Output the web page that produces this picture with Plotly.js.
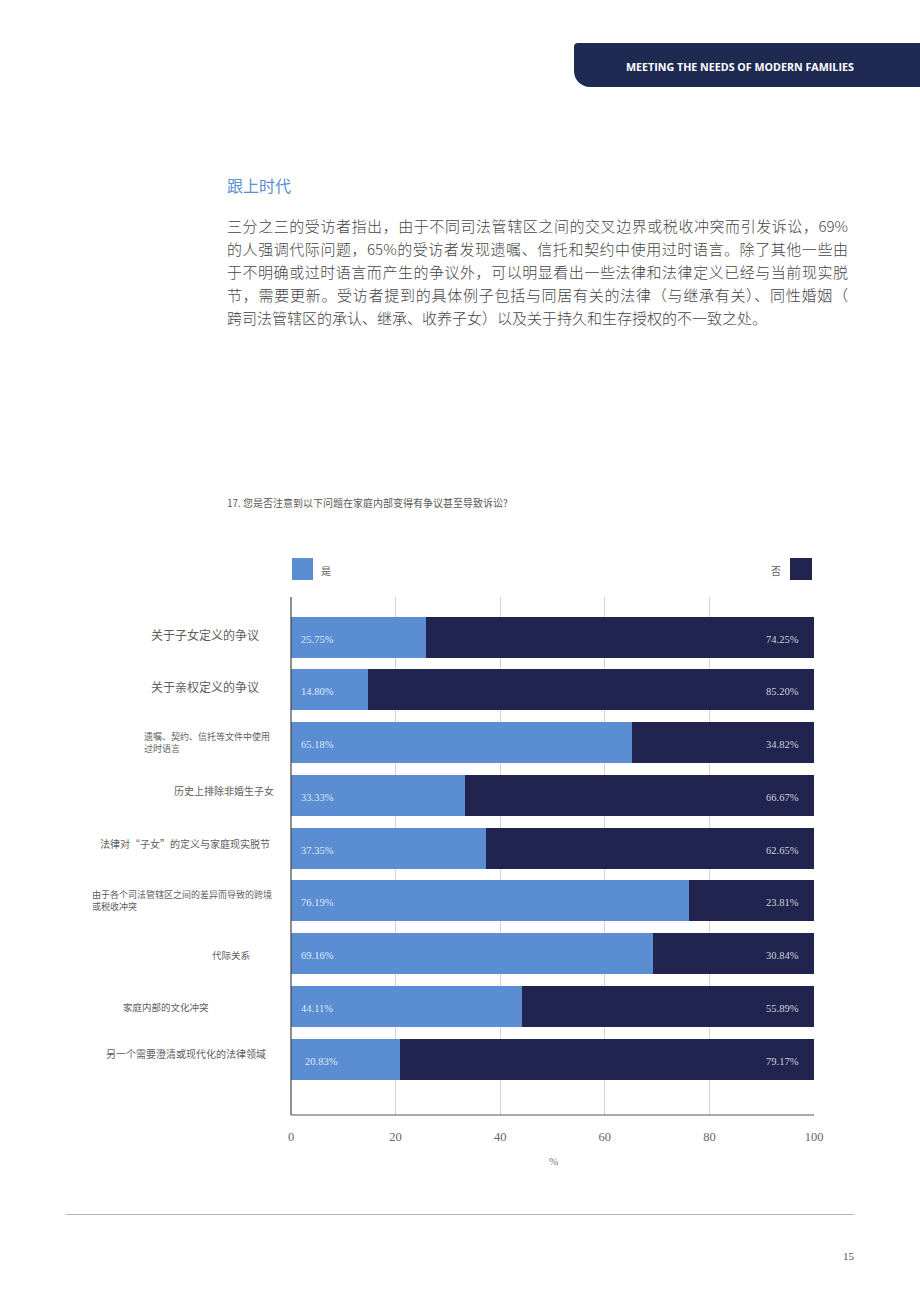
<!DOCTYPE html>
<html>
<head>
<meta charset="utf-8">
<script src="https://cdn.plot.ly/plotly-3.0.1.min.js"></script>
<style>
  html, body { margin:0; padding:0; background:#fff; }
  #page { position:relative; width:920px; height:1302px; overflow:hidden; background:#fff; }
  #chart { position:absolute; left:0; top:0; width:920px; height:1302px; }
  .ov { position:absolute; z-index:5; font-family:"Noto Sans CJK SC","Noto Sans",sans-serif; }
  #header { left:574px; top:43px; width:346px; height:44px; background:#1f2a52; border-radius:4px 0 0 16px;
            color:#fff; font-family:"Open Sans","Noto Sans",sans-serif; font-weight:700; font-size:10.7px;
            line-height:44px; text-align:left; box-sizing:border-box; padding-left:52px; padding-top:2px; }
  #sectitle { left:227px; top:173px; font-size:16px; line-height:24px; color:#5b8fd2; }
  #para { left:227px; top:214px; width:621px; font-size:15px; line-height:23px; color:#454545; font-weight:300; }
  #para div { text-align:justify; text-align-last:justify; white-space:nowrap; }
  #para div.last { text-align-last:left; }
  #question { left:227px; top:495px; font-size:10px; line-height:16px; color:#5a5a5a; }
  #footline { left:66px; top:1214px; width:788px; height:1px; background:#b5b5b5; }
  #pagenum { left:843px; top:1250px; font-family:"Liberation Serif",serif; font-size:11px; color:#555; }
</style>
</head>
<body>
<div id="page">
  <div id="chart"></div>
  <div class="ov" id="header">MEETING THE NEEDS OF MODERN FAMILIES</div>
  <div class="ov" id="sectitle">跟上时代</div>
  <div class="ov" id="para">
    <div>三分之三的受访者指出，由于不同司法管辖区之间的交叉边界或税收冲突而引发诉讼，69%</div>
    <div>的人强调代际问题，65%的受访者发现遗嘱、信托和契约中使用过时语言。除了其他一些由</div>
    <div>于不明确或过时语言而产生的争议外，可以明显看出一些法律和法律定义已经与当前现实脱</div>
    <div>节，需要更新。受访者提到的具体例子包括与同居有关的法律（与继承有关）、同性婚姻（</div>
    <div class="last">跨司法管辖区的承认、继承、收养子女）以及关于持久和生存授权的不一致之处。</div>
  </div>
  <div class="ov" id="question">17. 您是否注意到以下问题在家庭内部变得有争议甚至导致诉讼?</div>
  <div class="ov" id="footline"></div>
  <div class="ov" id="pagenum">15</div>
</div>
<script>
// ---- data ----
const categories = [
  "关于子女定义的争议",
  "关于亲权定义的争议",
  "遗嘱、契约、信托等文件中使用<br>过时语言",
  "历史上排除非婚生子女",
  "法律对“子女”的定义与家庭现实脱节",
  "由于各个司法管辖区之间的差异而导致的跨境<br>或税收冲突",
  "代际关系",
  "家庭内部的文化冲突",
  "另一个需要澄清或现代化的法律领域"
];
const yesValues = [25.75, 14.80, 65.18, 33.33, 37.35, 76.19, 69.16, 44.11, 20.83];
const noValues  = [74.25, 85.20, 34.82, 66.67, 62.65, 23.81, 30.84, 55.89, 79.17];
const seriesNames = ["是", "否"];
const xTickValues = [0, 20, 40, 60, 80, 100];
const xAxisLabel = "%";

// ---- layout helpers (pixel geometry of the page) ----
const PL = 291, PR = 814, PT = 597, PB = 1115, W = 920, H = 1302;
const px = x => (x - PL) / (PR - PL);
const py = y => (PB - y) / (PB - PT);
const labelStyle = [
  {x:205, anchor:'center', align:'center', size:12,  dy:3},
  {x:205, anchor:'center', align:'center', size:12,  dy:3},
  {x:142, anchor:'left',   align:'left',   size:9,   dy:0},
  {x:276, anchor:'right',  align:'right',  size:10,  dy:5},
  {x:272, anchor:'right',  align:'right',  size:10,  dy:5},
  {x:90,  anchor:'left',   align:'left',   size:9,   dy:0},
  {x:231, anchor:'center', align:'center', size:9.5, dy:-1},
  {x:166, anchor:'center', align:'center', size:9.5, dy:-1},
  {x:268, anchor:'right',  align:'right',  size:10,  dy:6}
];
const YES = "#5a8dd1", NO = "#20244f";
const CJK = '"Noto Sans CJK SC", "Noto Sans", sans-serif';
const SERIF = '"Liberation Serif", "DejaVu Serif", serif';

const traces = [
  {type:'bar', orientation:'h', name:seriesNames[0], y:categories, x:yesValues,
   marker:{color:YES, line:{width:0}}, width:0.78, hoverinfo:'x+y'},
  {type:'bar', orientation:'h', name:seriesNames[1], y:categories, x:noValues,
   marker:{color:NO, line:{width:0}}, width:0.78, hoverinfo:'x+y'}
];

const annotations = [];
categories.forEach((c, i) => {
  const s = labelStyle[i];
  annotations.push({xref:'paper', yref:'y', x:px(s.x), y:c, text:c, showarrow:false,
    xanchor:s.anchor, yanchor:'middle', align:s.align, yshift:s.dy,
    font:{family:CJK, size:s.size, color:'#5e5e5e'}});
  annotations.push({xref:'x', yref:'y', x:0, y:c, text:yesValues[i].toFixed(2) + '%', showarrow:false,
    xanchor:'left', yanchor:'middle', xshift: i === 8 ? 12 : 8, yshift:-2,
    font:{family:SERIF, size:10.5, color:'#dfe8f6'}});
  annotations.push({xref:'x', yref:'y', x:100, y:c, text:noValues[i].toFixed(2) + '%', showarrow:false,
    xanchor:'right', yanchor:'middle', xshift:-13, yshift:-2,
    font:{family:SERIF, size:10.5, color:'#d0d2dc'}});
});
// legend (custom placement)
annotations.push({xref:'paper', yref:'paper', x:px(319), y:py(570), text:seriesNames[0], showarrow:false,
  xanchor:'left', yanchor:'middle', font:{family:CJK, size:10, color:'#5e5e5e'}});
annotations.push({xref:'paper', yref:'paper', x:px(783), y:py(570), text:seriesNames[1], showarrow:false,
  xanchor:'right', yanchor:'middle', font:{family:CJK, size:10, color:'#5e5e5e'}});
// x axis label
annotations.push({xref:'paper', yref:'paper', x:px(553), y:py(1161), text:xAxisLabel, showarrow:false,
  xanchor:'center', yanchor:'middle', font:{family:SERIF, size:11, color:'#777777'}});

const shapes = [
  {type:'rect', xref:'paper', yref:'paper', x0:px(292), x1:px(313), y0:py(580), y1:py(558),
   fillcolor:YES, line:{width:0}},
  {type:'rect', xref:'paper', yref:'paper', x0:px(790), x1:px(812), y0:py(580), y1:py(558),
   fillcolor:NO, line:{width:0}},
  {type:'line', xref:'paper', yref:'paper', x0:0, x1:0, y0:0, y1:1, line:{color:'#444444', width:1.2}},
  {type:'line', xref:'paper', yref:'paper', x0:0, x1:1, y0:0, y1:0, line:{color:'#555555', width:1.2}}
];

const layout = {
  width:W, height:H,
  margin:{l:PL, r:W-PR, t:PT, b:H-PB, pad:0},
  paper_bgcolor:'rgba(0,0,0,0)', plot_bgcolor:'rgba(0,0,0,0)',
  barmode:'stack', bargap:0.22, showlegend:false,
  xaxis:{range:[0,100], tickvals:xTickValues, ticktext:xTickValues.map(String), color:'#666666',
    showgrid:true, gridcolor:'#d4d4d4', gridwidth:1, zeroline:false, showline:false,
    ticks:'', ticklabelstandoff:12, tickfont:{family:SERIF, size:12.5, color:'rgb(102,102,102)'}, fixedrange:true},
  yaxis:{type:'category', categoryorder:'array', categoryarray:categories,
    range:[categories.length - 1 + 1.06, -0.76], showticklabels:false, showgrid:false,
    zeroline:false, showline:false, ticks:'', fixedrange:true},
  annotations:annotations, shapes:shapes,
  font:{family:CJK, color:'#666666'}
};

Plotly.newPlot('chart', traces, layout, {displayModeBar:false, staticPlot:true});
</script>
</body>
</html>
